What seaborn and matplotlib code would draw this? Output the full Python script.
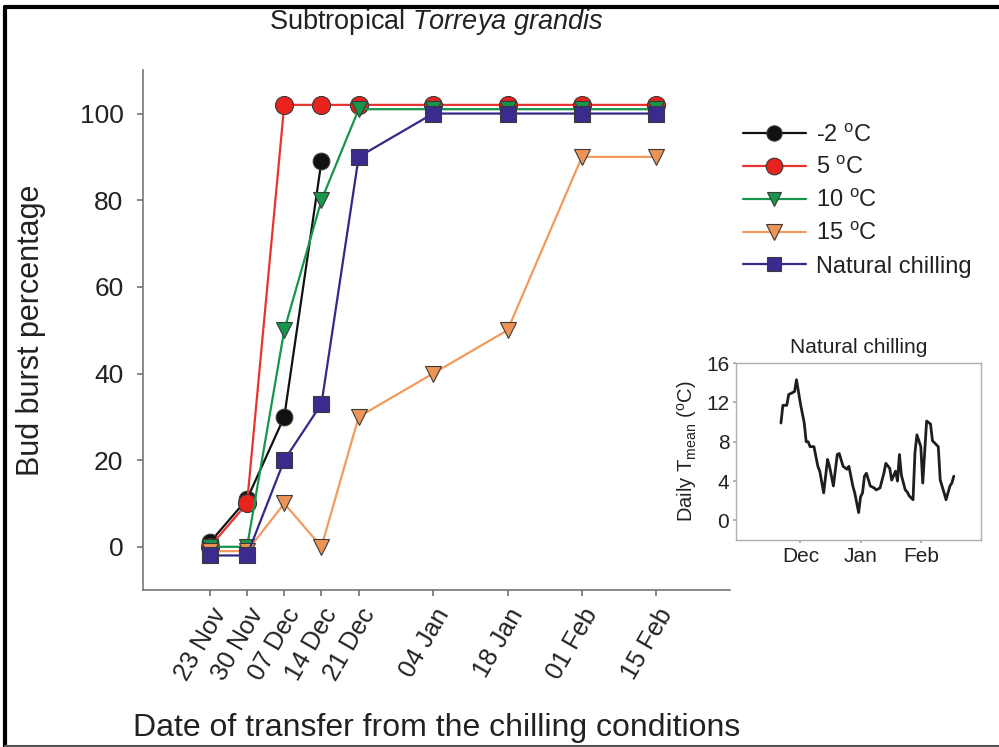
import matplotlib
matplotlib.use("Agg")
import matplotlib.pyplot as plt
from matplotlib.lines import Line2D
import seaborn as sns
import pandas as pd

# Transfer dates (days after 23 Nov) and their labels
transfer_days = [0, 7, 14, 21, 28, 42, 56, 70, 84]
transfer_labels = ["23 Nov", "30 Nov", "07 Dec", "14 Dec", "21 Dec",
                   "04 Jan", "18 Jan", "01 Feb", "15 Feb"]

# Bud burst percentage for each chilling treatment
minus2 = [1, 11, 30, 89]
five = [0, 10, 102, 102, 102, 102, 102, 102, 102]
ten = [0, 0, 50, 80, 101, 101, 101, 101, 101]
fifteen = [-1, -1, 10, 0, 30, 40, 50, 90, 90]
natural = [-2, -2, 20, 33, 90, 100, 100, 100, 100]

labels = ["-2 $^{\\mathrm{o}}$C", "5 $^{\\mathrm{o}}$C", "10 $^{\\mathrm{o}}$C",
          "15 $^{\\mathrm{o}}$C", "Natural chilling"]
colors = ["#111111", "#e8342e", "#16964a", "#f39a5c", "#33288a"]
marker_faces = ["#111111", "#e8231d", "#16964a", "#ec9455", "#3a2c8e"]
marker_shapes = ["o", "o", "v", "v", "s"]
marker_sizes = [12, 13, 11, 12, 11]

# Daily mean temperature under natural chilling (days after 1 Dec)
temp_days = [-10, -9, -7, -6, -3, -2, 0, 2, 3, 4, 5, 7, 9, 10, 12, 14, 15, 17, 19, 20,
             22, 24, 25, 27, 28, 30, 31, 32, 33, 34, 36, 38, 39, 41, 43, 44, 46, 47, 49, 50,
             51, 52, 54, 55, 56, 58, 59, 60, 62, 63, 65, 67, 68, 71, 72, 74, 75, 77, 78, 79]
temp_mean = [9.9, 11.7, 11.7, 12.8, 13.1, 14.3, 11.9, 9.9, 8.0, 8.0, 7.5, 7.5, 5.5, 5.0, 2.8,
             6.2, 5.5, 3.5, 6.7, 6.8, 5.5, 5.2, 5.5, 3.5, 2.8, 0.8, 2.4, 2.8, 4.5, 4.8,
             3.5, 3.3, 3.1, 3.3, 4.8, 5.8, 5.3, 4.1, 5.0, 4.0, 6.7, 4.6, 3.1, 2.9, 2.5,
             2.1, 6.9, 8.7, 7.5, 3.8, 10.1, 9.8, 8.1, 7.5, 4.1, 2.8, 2.1, 3.5, 3.8, 4.5]
month_ticks = [0, 31, 62]
month_labels = ["Dec", "Jan", "Feb"]

sns.set_theme(style="white")
plt.rcParams["font.family"] = ["Liberation Sans", "DejaVu Sans"]
plt.rcParams["mathtext.fontset"] = "custom"
plt.rcParams["mathtext.rm"] = "Liberation Sans"
plt.rcParams["mathtext.it"] = "Liberation Sans:italic"

text_col = "#222222"
spine_col = "#777777"

fig = plt.figure(figsize=(9.99, 7.47), dpi=100)
fig.patch.set_facecolor("white")

ax = fig.add_axes([0.143, 0.210, 0.588, 0.696])

series = [minus2, five, ten, fifteen, natural]
rows = []
for lab, vals in zip(labels, series):
    for d, v in zip(transfer_days, vals):
        rows.append({"day": d, "pct": v, "treatment": lab})
df = pd.DataFrame(rows)

for i, lab in enumerate(labels):
    sub = df[df["treatment"] == lab]
    sns.lineplot(data=sub, x="day", y="pct", ax=ax, color=colors[i], lw=1.6,
                 marker=marker_shapes[i], markersize=marker_sizes[i],
                 markerfacecolor=marker_faces[i], markeredgecolor="#3a3a3a",
                 markeredgewidth=0.8, estimator=None, sort=False, zorder=3 + i)

ax.set_xlim(-12.6, 97.9)
ax.set_ylim(-10, 110)
ax.set_xticks(transfer_days)
ax.set_xticklabels(transfer_labels, rotation=60, ha="right", rotation_mode="anchor",
                   fontsize=18, color=text_col)
ax.set_yticks([0, 20, 40, 60, 80, 100])
ax.tick_params(axis="y", labelsize=19, labelcolor=text_col, length=4, color=spine_col,
               direction="out", left=True, pad=10)
ax.tick_params(axis="x", length=4, color=spine_col, direction="out", bottom=True, pad=6)
for s in ["top", "right"]:
    ax.spines[s].set_visible(False)
for s in ["left", "bottom"]:
    ax.spines[s].set_color(spine_col)
    ax.spines[s].set_linewidth(1.2)
ax.set_xlabel("Date of transfer from the chilling conditions", fontsize=23, color=text_col,
              labelpad=20)
ax.set_ylabel("Bud burst percentage", fontsize=22, color=text_col, labelpad=24)
ax.set_title("Subtropical $\\it{Torreya\\ grandis}$", fontsize=19.5, color=text_col, pad=30)

handles = [Line2D([0], [0], color=colors[i], lw=1.6, marker=marker_shapes[i],
                  markersize=marker_sizes[i] - 1, markerfacecolor=marker_faces[i],
                  markeredgecolor="#3a3a3a", markeredgewidth=0.8)
           for i in range(len(labels))]
fig.legend(handles, labels, loc="upper left", bbox_to_anchor=(0.722, 0.862),
           frameon=False, fontsize=17, handlelength=2.7, handletextpad=0.42,
           labelspacing=0.45, labelcolor=text_col)

# Inset: daily mean temperature under natural chilling
axi = fig.add_axes([0.737, 0.277, 0.245, 0.237])
sns.lineplot(x=temp_days, y=temp_mean, ax=axi, color="#1e1e1e", lw=2.0, sort=False,
             estimator=None)
axi.set_xlim(-33, 93)
axi.set_ylim(-2, 16)
axi.set_xticks(month_ticks)
axi.set_xticklabels(month_labels, fontsize=15, color=text_col)
axi.set_yticks([0, 4, 8, 12, 16])
axi.tick_params(axis="both", labelsize=15, labelcolor=text_col, length=2, color="#aaaaaa",
                direction="out", left=True, bottom=True, pad=3)
for s in axi.spines.values():
    s.set_color("#b0b0b0")
    s.set_linewidth(1.0)
axi.set_title("Natural chilling", fontsize=15, color=text_col, pad=7)
axi.set_ylabel("Daily T$_{\\mathrm{mean}}$ ($^{\\mathrm{o}}$C)", fontsize=14.5, color=text_col,
               labelpad=5)

# Outer frame lines
fig.add_artist(Line2D([0.005, 0.005], [0.0, 0.99], transform=fig.transFigure,
                      color="black", lw=3))
fig.add_artist(Line2D([0.005, 1.0], [0.99, 0.99], transform=fig.transFigure,
                      color="black", lw=3))
fig.add_artist(Line2D([0.005, 1.0], [0.002, 0.002], transform=fig.transFigure,
                      color="#555555", lw=1.5))

fig.savefig("out.png", dpi=100, facecolor="white")
